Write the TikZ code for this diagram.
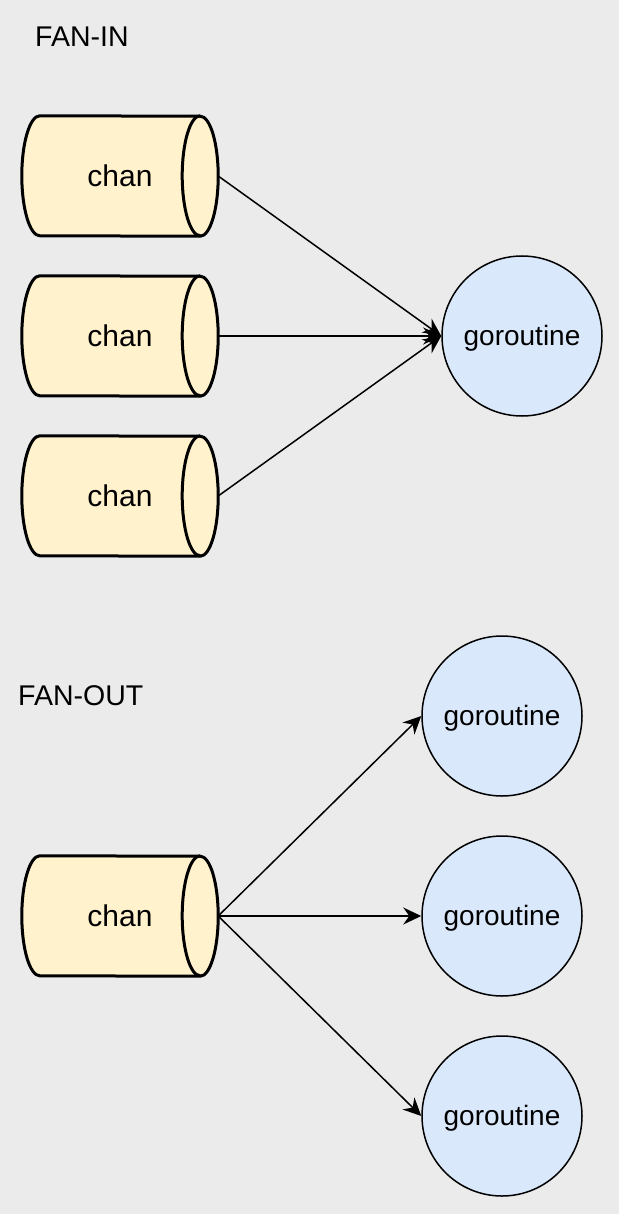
\documentclass[tikz,border=0pt]{standalone}
\usepackage{fontspec}
\setmainfont{Liberation Sans}
\usetikzlibrary{calc,arrows.meta,backgrounds}
\definecolor{bgc}{HTML}{EBEBEB}
\definecolor{chanfill}{HTML}{FFF2CC}
\definecolor{gofill}{HTML}{DAE8FC}
\tikzset{
  chan/.style={rectangle, minimum width=196pt, minimum height=120pt, inner sep=0pt, font=\fontsize{30}{34}\selectfont},
  cyl/.style={draw=black, fill=chanfill, line width=3pt, line join=round},
  gor/.style={circle, draw=black, fill=gofill, line width=1.5pt, minimum size=160pt, inner sep=0pt, text height=20pt, text depth=2pt, font=\fontsize{28}{34}\selectfont},
  conn/.style={draw=black, line width=1.5pt, -{Stealth[length=18pt,width=17pt,inset=6pt]}},
  title/.style={anchor=west, inner sep=0pt, font=\fontsize{28.5}{34}\selectfont}
}
\newcommand\chancyl[1]{%
  \begin{scope}[on background layer]
  \draw[cyl] ($(#1.north west)+(18pt,0)$) arc[start angle=90,end angle=270,x radius=18pt,y radius=60pt]
    -- ($(#1.south east)+(-18pt,0)$) arc[start angle=-90,end angle=90,x radius=18pt,y radius=60pt] -- cycle;
  \draw[cyl, fill=none] ($(#1.north east)+(-18pt,0)$) arc[start angle=90,end angle=270,x radius=18pt,y radius=60pt];
  \end{scope}}
\begin{document}
\begin{tikzpicture}[x=1pt,y=1pt]
\begin{scope}[on background layer]
\fill[bgc] (0,0) rectangle (619,-1214);
\end{scope}
\useasboundingbox (0,0) rectangle (619,-1214);
\node[title] (fin) at (35,-37) {FAN-IN};
\node[title] (fout) at (18,-696) {FAN-OUT};
\node[chan] (c1) at (120,-176) {chan};
\node[chan] (c2) at (120,-336) {chan};
\node[chan] (c3) at (120,-496) {chan};
\node[chan] (c4) at (120,-916) {chan};
\chancyl{c1}\chancyl{c2}\chancyl{c3}\chancyl{c4}
\node[gor] (g1) at (522,-336) {goroutine};
\node[gor] (g2) at (502,-716) {goroutine};
\node[gor] (g3) at (502,-916) {goroutine};
\node[gor] (g4) at (502,-1116) {goroutine};
\draw[conn] (c1.east) -- (g1.west);
\draw[conn] (c2.east) -- (g1.west);
\draw[conn] (c3.east) -- (g1.west);
\draw[conn] (c4.east) -- (g2.west);
\draw[conn] (c4.east) -- (g3.west);
\draw[conn] (c4.east) -- (g4.west);
\end{tikzpicture}
\end{document}
